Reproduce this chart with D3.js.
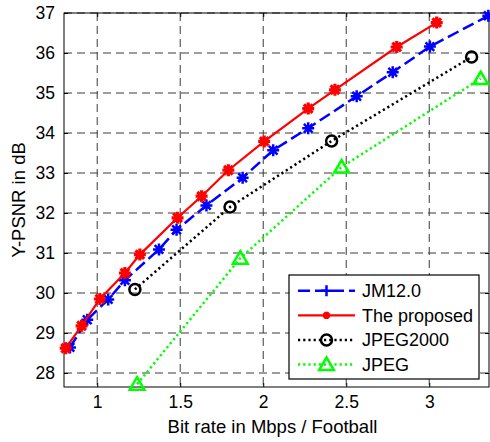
<!DOCTYPE html>
<html>
<head>
<meta charset="utf-8">
<script src="https://cdn.jsdelivr.net/npm/d3@7"></script>
<style>
  html, body { margin: 0; padding: 0; background: #fff; }
  svg { display: block; font-family: "Liberation Sans", Arial, sans-serif; }
</style>
</head>
<body>
<svg id="chart" width="490" height="442"></svg>
<script>
// Rate–distortion data: bit rate (Mbps) vs Y-PSNR (dB), Football sequence
const jmRate   = [0.836, 0.94, 1.066, 1.167, 1.372, 1.478, 1.658, 1.876, 2.06, 2.271, 2.563, 2.78, 3.004, 3.356];
const jmPsnr   = [28.64, 29.33, 29.84, 30.32, 31.09, 31.58, 32.19, 32.88, 33.57, 34.12, 34.92, 35.52, 36.16, 36.93];
const propRate = [0.81, 0.906, 1.016, 1.167, 1.257, 1.484, 1.629, 1.79, 2.006, 2.271, 2.432, 2.804, 3.045];
const propPsnr = [28.62, 29.18, 29.85, 30.50, 30.96, 31.88, 32.42, 33.07, 33.79, 34.61, 35.08, 36.15, 36.76];
const j2kRate  = [1.227, 1.80, 2.412, 3.255];
const j2kPsnr  = [30.09, 32.15, 33.80, 35.90];
const jpgRate  = [1.24, 1.862, 2.472, 3.31];
const jpgPsnr  = [27.72, 30.87, 33.15, 35.36];

const seriesNames = ["JM12.0", "The proposed", "JPEG2000", "JPEG"];
const xTicks = [1, 1.5, 2, 2.5, 3];
const yTicks = [28, 29, 30, 31, 32, 33, 34, 35, 36, 37];

const series = [
  { name: seriesNames[0], rate: jmRate,   psnr: jmPsnr,   color: "#0000ff", dash: "12,5", width: 2.5, marker: "star" },
  { name: seriesNames[1], rate: propRate, psnr: propPsnr, color: "#ff0000", dash: null,   width: 2.2, marker: "starBold" },
  { name: seriesNames[2], rate: j2kRate,  psnr: j2kPsnr,  color: "#000000", dash: "2.2,3", width: 2.5, marker: "circle" },
  { name: seriesNames[3], rate: jpgRate,  psnr: jpgPsnr,  color: "#00ff00", dash: "2.2,3", width: 2.5, marker: "triangle" }
];

const svg = d3.select("#chart");
const L = 64, R = 489, T = 13, B = 387;

const x = d3.scaleLinear().domain([0.8, 3.36]).range([L, R]);
const y = d3.scaleLinear().domain([27.65, 37]).range([B, T]);

// dashed grid
const grid = svg.append("g").attr("stroke", "#3a3a3a").attr("stroke-width", 1).attr("stroke-dasharray", "8,5");
grid.selectAll(".gx").data(xTicks).join("line")
  .attr("x1", d => x(d)).attr("x2", d => x(d)).attr("y1", T).attr("y2", B);
grid.selectAll(".gy").data(yTicks).join("line")
  .attr("x1", L).attr("x2", R).attr("y1", d => y(d)).attr("y2", d => y(d));

// axes with inward ticks on all four sides
const tickLen = 4;
const axB = svg.append("g").attr("transform", `translate(0,${B})`)
  .call(d3.axisBottom(x).tickValues(xTicks).tickSizeInner(-tickLen).tickSizeOuter(0).tickPadding(8).tickFormat(d3.format("")));
const axT = svg.append("g").attr("transform", `translate(0,${T})`)
  .call(d3.axisTop(x).tickValues(xTicks).tickSizeInner(-tickLen).tickSizeOuter(0).tickFormat(""));
const axL = svg.append("g").attr("transform", `translate(${L},0)`)
  .call(d3.axisLeft(y).tickValues(yTicks).tickSizeInner(-tickLen).tickSizeOuter(0).tickPadding(9).tickFormat(d3.format("d")));
const axR = svg.append("g").attr("transform", `translate(${R},0)`)
  .call(d3.axisRight(y).tickValues(yTicks).tickSizeInner(-tickLen).tickSizeOuter(0).tickFormat(""));
[axB, axT, axL, axR].forEach(a => {
  a.select(".domain").remove();
  a.selectAll("line").attr("stroke", "#000");
  a.selectAll("text").attr("fill", "#000").style("font-size", "17.5px")
    .style("font-family", '"Liberation Sans", Arial, sans-serif');
});
axB.selectAll("text").attr("dy", null).attr("y", 21);

// frame
svg.append("rect").attr("x", L).attr("y", T).attr("width", R - L).attr("height", B - T)
  .attr("fill", "none").attr("stroke", "#000").attr("stroke-width", 1);

// axis titles
svg.append("text").attr("x", 272.5).attr("y", 433).attr("text-anchor", "middle")
  .style("font-size", "18.5px").text("Bit rate in Mbps / Football");
svg.append("text").attr("transform", "translate(25,200) rotate(-90)").attr("text-anchor", "middle")
  .style("font-size", "18.5px").text("Y-PSNR in dB");

// marker painter
function drawMarker(g, type, color, scale) {
  const s = scale || 1;
  if (type === "star" || type === "starBold") {
    const r = (type === "star" ? 6 : 6) * s;
    const d = r * 0.72;
    const sw = type === "star" ? 2.5 : 3.2;
    const path = `M${-r},0L${r},0M0,${-r}L0,${r}M${-d},${-d}L${d},${d}M${-d},${d}L${d},${-d}`;
    g.append("path").attr("d", path).attr("stroke", color).attr("stroke-width", sw * (s < 1 ? 1.1 : 1)).attr("fill", "none");
    if (type === "starBold") g.append("circle").attr("r", 2.8 * s).attr("fill", color);
  } else if (type === "plus") {
    const r = 5.5 * s;
    g.append("path").attr("d", `M${-r},0L${r},0M0,${-r}L0,${r}`).attr("stroke", color).attr("stroke-width", 2.5).attr("fill", "none");
  } else if (type === "circle") {
    g.append("circle").attr("r", 5.5 * s).attr("fill", "none").attr("stroke", color).attr("stroke-width", 2.5);
  } else if (type === "triangle") {
    const h = 7 * s;
    g.append("path").attr("d", `M0,${-h}L${h * 1.05},${h * 0.78}L${-h * 1.05},${h * 0.78}Z`)
      .attr("fill", "none").attr("stroke", color).attr("stroke-width", 2.5).attr("stroke-linejoin", "miter");
  }
}

// series lines and markers
series.forEach(sr => {
  const pts = sr.rate.map((r, i) => [r, sr.psnr[i]]);
  const line = d3.line().x(d => x(d[0])).y(d => y(d[1]));
  svg.append("path").datum(pts).attr("d", line)
    .attr("fill", "none").attr("stroke", sr.color).attr("stroke-width", sr.width)
    .attr("stroke-dasharray", sr.dash);
  svg.append("g").selectAll("g").data(pts).join("g")
    .attr("transform", d => `translate(${x(d[0])},${y(d[1])})`)
    .each(function () { drawMarker(d3.select(this), sr.marker, sr.color, 1); });
});

// legend
const legend = svg.append("g");
legend.append("rect").attr("x", 289).attr("y", 275).attr("width", 190).attr("height", 104)
  .attr("fill", "#fff").attr("stroke", "#000").attr("stroke-width", 1.2);
const legendMarker = { star: "plus", starBold: "starBold", circle: "circle", triangle: "triangle" };
const rowY = d3.scalePoint().domain(seriesNames).range([290.7, 364.5]);
series.forEach(sr => {
  const ry = rowY(sr.name);
  legend.append("line").attr("x1", 298).attr("x2", 355).attr("y1", ry).attr("y2", ry)
    .attr("stroke", sr.color).attr("stroke-width", sr.width).attr("stroke-dasharray", sr.dash);
  const mg = legend.append("g").attr("transform", `translate(326.5,${ry})`);
  drawMarker(mg, legendMarker[sr.marker], sr.color, sr.marker === "starBold" ? 0.6 : 1);
  legend.append("text").attr("x", 362).attr("y", ry).attr("dy", "0.36em")
    .style("font-size", "18px").text(sr.name);
});
</script>
</body>
</html>
